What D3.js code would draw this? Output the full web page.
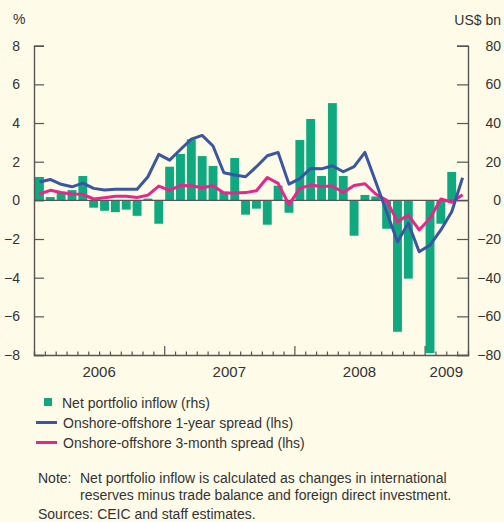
<!DOCTYPE html>
<html><head><meta charset="utf-8">
<script src="https://cdn.jsdelivr.net/npm/d3@7"></script>
<style>
html,body{margin:0;padding:0;background:#FFFBE9;}
svg{display:block;font-family:"Liberation Sans",Arial,sans-serif;}
</style></head>
<body>
<svg id="chart" width="504" height="522"></svg>
<script>
const months = ["2006-01","2006-02","2006-03","2006-04","2006-05","2006-06","2006-07","2006-08","2006-09","2006-10","2006-11","2006-12",
"2007-01","2007-02","2007-03","2007-04","2007-05","2007-06","2007-07","2007-08","2007-09","2007-10","2007-11","2007-12",
"2008-01","2008-02","2008-03","2008-04","2008-05","2008-06","2008-07","2008-08","2008-09","2008-10","2008-11","2008-12",
"2009-01","2009-02","2009-03","2009-04"];
const years = ["2006","2007","2008","2009"];
// Net portfolio inflow, US$ bn (rhs)
const inflow = [12.1,1.7,4,5.3,12.6,-3.8,-5.4,-6.1,-4.8,-8.0,0.9,-12.1,
17.4,24,31.6,22.9,17.8,4.5,21.9,-7.4,-4.3,-12.6,7.6,-6.4,
31.2,42.1,12.6,50.3,12.6,-18.3,2.8,2,-14.7,-68,-40.5,0,
-79,-12.1,14.7,null];
// Onshore-offshore 1-year spread, % (lhs)
const spread1y = [0.95,1.08,0.83,0.70,0.89,0.62,0.53,0.57,0.57,0.57,1.22,2.38,
2.08,2.63,3.17,3.36,2.81,1.43,1.31,1.22,1.74,2.31,2.48,0.84,
1.12,1.65,1.63,1.79,1.48,1.74,2.48,0.95,-0.6,-2.14,-1.19,-2.66,
-2.31,-1.53,-0.59,1.17];
// Onshore-offshore 3-month spread, % (lhs)
const spread3m = [0.33,0.52,0.41,0.33,0.31,0.07,0.14,0.21,0.21,0.15,0.27,0.74,
0.52,0.77,0.76,0.65,0.76,0.38,0.38,0.40,0.50,1.18,0.88,-0.22,
0.62,0.79,0.72,0.74,0.41,0.77,0.86,0.33,0.0,-1.1,-0.76,-1.53,
-0.93,0.07,-0.1,0.29];
const leftTicks = [8,6,4,2,0,-2,-4,-6,-8];
const rightTicks = [80,60,40,20,0,-20,-40,-60,-80];
const legendLabels = ["Net portfolio inflow (rhs)","Onshore-offshore 1-year spread (lhs)","Onshore-offshore 3-month spread (lhs)"];
const noteLines = ["Net portfolio inflow is calculated as changes in international","reserves minus trade balance and foreign direct investment."];
const sourceText = "Sources: CEIC and staff estimates.";

const C = {bar:"#10A97F", blue:"#3B55A5", pink:"#E6268B", axis:"#555", text:"#333"};
const svg = d3.select("#chart");
const L = 34, R = 468, T = 45.7, B = 355;

const xb = d3.scaleBand().domain(months).range([L,R]).paddingInner(0.18).paddingOuter(0.09);
const xi = d3.scaleLinear().domain([0, months.length]).range([L,R]);
const yl = d3.scaleLinear().domain([-8,8]).range([B,T]);
const yr = d3.scaleLinear().domain([-80,80]).range([B,T]);

// bars
svg.append("g").selectAll("rect").data(months.map((m,i)=>({m,v:inflow[i]})).filter(d=>d.v!==null))
 .join("rect")
 .attr("x",d=>xb(d.m)).attr("width",xb.bandwidth())
 .attr("y",d=>yr(Math.max(0,d.v))).attr("height",d=>Math.abs(yr(d.v)-yr(0)))
 .attr("fill",C.bar);

// zero line
svg.append("line").attr("x1",L).attr("x2",R).attr("y1",yl(0)).attr("y2",yl(0))
 .attr("stroke",C.axis).attr("stroke-width",1.4);

// lines
const cx = (i)=>xi(i+0.5);
const lineGen = d3.line().x((d,i)=>cx(i)).y(d=>yl(d));
svg.append("path").datum(spread3m).attr("d",lineGen).attr("fill","none")
 .attr("stroke",C.pink).attr("stroke-width",3).attr("stroke-linejoin","round");
svg.append("path").datum(spread1y).attr("d",lineGen).attr("fill","none")
 .attr("stroke",C.blue).attr("stroke-width",3).attr("stroke-linejoin","round");

// left axis
const la = svg.append("g").attr("transform",`translate(${L},0)`)
 .call(d3.axisLeft(yl).tickValues(leftTicks).tickSize(-10).tickPadding(14).tickFormat(d3.format("d")));
la.select(".domain").attr("stroke",C.axis).attr("stroke-width",1.4);
la.selectAll(".tick line").attr("stroke",C.axis).attr("stroke-width",1.2);
la.selectAll(".tick text").attr("font-size",14).attr("fill",C.text).attr("font-family","Liberation Sans, Arial, sans-serif");

// right axis (labels right-aligned near the edge)
const ra = svg.append("g").attr("transform",`translate(${R},0)`)
 .call(d3.axisRight(yr).tickValues(rightTicks).tickSize(-11).tickPadding(33).tickFormat(d3.format("d")));
ra.select(".domain").attr("stroke",C.axis).attr("stroke-width",1.4);
ra.selectAll(".tick line").attr("stroke",C.axis).attr("stroke-width",1.2);
ra.selectAll(".tick text").attr("font-size",14).attr("fill",C.text).attr("text-anchor","end")
 .attr("font-family","Liberation Sans, Arial, sans-serif");

// bottom axis
const monthTicks = d3.range(1, months.length);
const yearStarts = months.map((m,i)=>m.endsWith("-01")?i:-1).filter(i=>i>0);
const ba = svg.append("g").attr("transform",`translate(0,${B})`)
 .call(d3.axisBottom(xi).tickValues(monthTicks).tickSize(-3.5).tickFormat(""));
ba.select(".domain").attr("stroke",C.axis).attr("stroke-width",1.4);
ba.selectAll(".tick line").attr("stroke",C.axis).attr("stroke-width",1.2)
 .attr("y2",d=>yearStarts.includes(d)?-9:-3.5);
// year labels
svg.append("g").selectAll("text").data(years).join("text")
 .attr("x",(y)=>{const s=months.indexOf(y+"-01"); const e=Math.min(s+12,months.length); return xi((s+e)/2);})
 .attr("y",377).attr("text-anchor","middle").attr("font-size",15).attr("fill",C.text).text(d=>d);

// unit labels
svg.append("text").attr("x",13).attr("y",24).attr("font-size",14).attr("fill",C.text).text("%");
svg.append("text").attr("x",501).attr("y",25).attr("text-anchor","end").attr("font-size",14).attr("fill",C.text).text("US$ bn");

// legend
const lg = svg.append("g");
lg.append("rect").attr("x",44).attr("y",398).attr("width",8).attr("height",8).attr("fill",C.bar);
lg.append("line").attr("x1",36).attr("x2",57).attr("y1",422.5).attr("y2",422.5).attr("stroke",C.blue).attr("stroke-width",3);
lg.append("line").attr("x1",36).attr("x2",57).attr("y1",442.5).attr("y2",442.5).attr("stroke",C.pink).attr("stroke-width",3);
lg.selectAll("text").data(legendLabels).join("text")
 .attr("x",(d,i)=>i===0?62:63).attr("y",(d,i)=>408+i*20).attr("font-size",14).attr("fill",C.text).text(d=>d);

// note
svg.append("text").attr("x",38).attr("y",483).attr("font-size",14).attr("fill",C.text).text("Note:");
svg.append("g").selectAll("text").data(noteLines).join("text")
 .attr("x",80).attr("y",(d,i)=>483+i*17).attr("font-size",14).attr("fill",C.text).text(d=>d);
svg.append("text").attr("x",38).attr("y",518.5).attr("font-size",14).attr("fill",C.text).text(sourceText);
</script>
</body></html>
